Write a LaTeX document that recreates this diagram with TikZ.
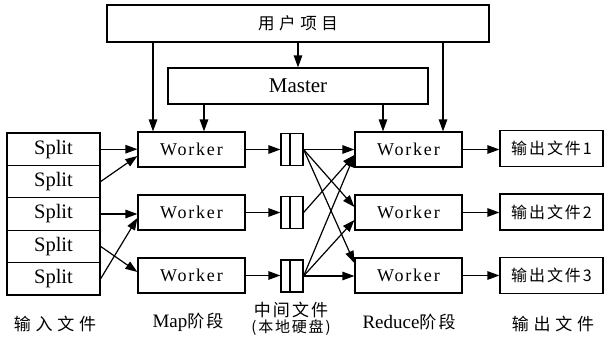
\documentclass[tikz,border=0pt]{standalone}
\usepackage{fontspec}
\setmainfont{Liberation Serif}
\newfontfamily\cjk[LetterSpace=28]{Noto Sans CJK SC}
\newfontfamily\cjkb[LetterSpace=12]{Noto Sans CJK SC}
\newfontfamily\wk[LetterSpace=10]{Liberation Serif}
\usetikzlibrary{arrows.meta}
\begin{document}
\begin{tikzpicture}[x=1pt,y=-1pt,line width=1.2pt,
  >={Triangle[length=12pt,width=8.5pt]},
  box/.style={draw,rectangle,inner sep=0pt,minimum width=#1},
  splitbox/.style={box=93pt,minimum height=32.4pt,font=\fontsize{20.5}{22}\selectfont},
  workerbox/.style={box=107pt,minimum height=35pt,font=\wk\fontsize{18}{20}\selectfont},
  filebox/.style={box=22pt,minimum height=32pt},
  outbox/.style={box=103pt,minimum height=36pt,font=\cjkb\fontsize{16}{18}\selectfont},
  lbl/.style={inner sep=0pt,font=\fontsize{19}{20}\selectfont}]
\useasboundingbox (0,0) rectangle (604,337);
\fill[white] (0,0) rectangle (604,337);

\node[box=382pt,minimum height=37pt,font=\cjk\fontsize{16.5}{18}\selectfont] (user) at (298,23.5) {用户项目};
\node[box=260pt,minimum height=36pt,font=\fontsize{21}{22}\selectfont] (master) at (298,86) {Master};

\node[splitbox] (s1) at (53.5,149.2) {Split};
\node[splitbox] (s2) at (53.5,181.6) {Split};
\node[splitbox] (s3) at (53.5,214) {Split};
\node[splitbox] (s4) at (53.5,246.4) {Split};
\node[splitbox] (s5) at (53.5,278.8) {Split};

\node[workerbox] (m1) at (191.5,149.5) {Worker};
\node[workerbox] (m2) at (191.5,212.5) {Worker};
\node[workerbox] (m3) at (191.5,275.5) {Worker};

\node[filebox] (f1) at (292,149.5) {};
\node[filebox] (f2) at (292,212.5) {};
\node[filebox] (f3) at (292,276) {};
\foreach \f in {f1,f2,f3}
  \draw ([xshift=-2pt]\f.north) -- ([xshift=-2pt]\f.south);

\node[workerbox] (r1) at (408.5,149.5) {Worker};
\node[workerbox] (r2) at (408.5,212.5) {Worker};
\node[workerbox] (r3) at (408.5,275.5) {Worker};

\node[outbox] (o1) at (551.5,148.5) {输出文件1};
\node[outbox] (o2) at (551.5,212) {输出文件2};
\node[outbox] (o3) at (551.5,275.5) {输出文件3};

% top arrows
\coordinate (a1) at (153,42);
\coordinate (a2) at (443,42);
\coordinate (b1) at (204,104);
\coordinate (b2) at (383,104);
\draw[->] (a1) -- (a1 |- m1.north);
\draw[->] (a2) -- (a2 |- r1.north);
\draw[->] (user.south) -- (master.north);
\draw[->] (b1) -- (b1 |- m1.north);
\draw[->] (b2) -- (b2 |- r1.north);

% splits to map workers
\draw[->] (s1.east) -- (s1.east -| m1.west);
\draw[->] (s2.east) -- ([yshift=-6.5pt]m1.west);
\draw[->] (s3.east) -- (s3.east -| m2.west);
\draw[->] (s5.east) -- ([yshift=-5.5pt]m2.west);
\draw[->] (s4.east) -- ([yshift=3.5pt]m3.west);

% map workers to files
\draw[->] (m1.east) -- (f1.west);
\draw[->] (m2.east) -- (f2.west);
\draw[->] (m3.east) -- (m3.east -| f3.west);

% shuffle
\draw[->] (f1.east) -- (r1.west);
\draw[->] (f1.east) -- ([yshift=5.5pt]r2.west);
\draw[->] (f1.east) -- ([yshift=12.5pt]r3.west);
\draw[->] (f2.east) -- ([yshift=-5.5pt]r1.west);
\draw[->] (f3.east) -- ([yshift=-5.5pt]r1.west);
\draw[->] (f3.east) -- ([yshift=-7.5pt]r2.west);
\draw[->] (f3.east) -- (f3.east -| r3.west);

% reduce to outputs
\draw[->] (r1.east) -- (r1.east -| o1.west);
\draw[->] (r2.east) -- (r2.east -| o2.west);
\draw[->] (r3.east) -- (r3.east -| o3.west);

% bottom labels
\node[lbl,font=\cjk\fontsize{17}{18}\selectfont] (l1) at (55,324) {输入文件};
\node[lbl] (l2) at (188,322) {Map{\cjkb\fontsize{17}{18}\selectfont 阶段}};
\node[lbl,font=\cjkb\fontsize{17}{18}\selectfont] (l3) at (291,310) {中间文件};
\node[lbl,font=\cjkb\fontsize{15}{18}\selectfont] (l4) at (291,327.5) {(本地硬盘)};
\node[lbl] (l5) at (409,322) {Reduce{\cjkb\fontsize{17}{18}\selectfont 阶段}};
\node[lbl,font=\cjk\fontsize{17}{18}\selectfont] (l6) at (553,324) {输出文件};
\end{tikzpicture}
\end{document}
